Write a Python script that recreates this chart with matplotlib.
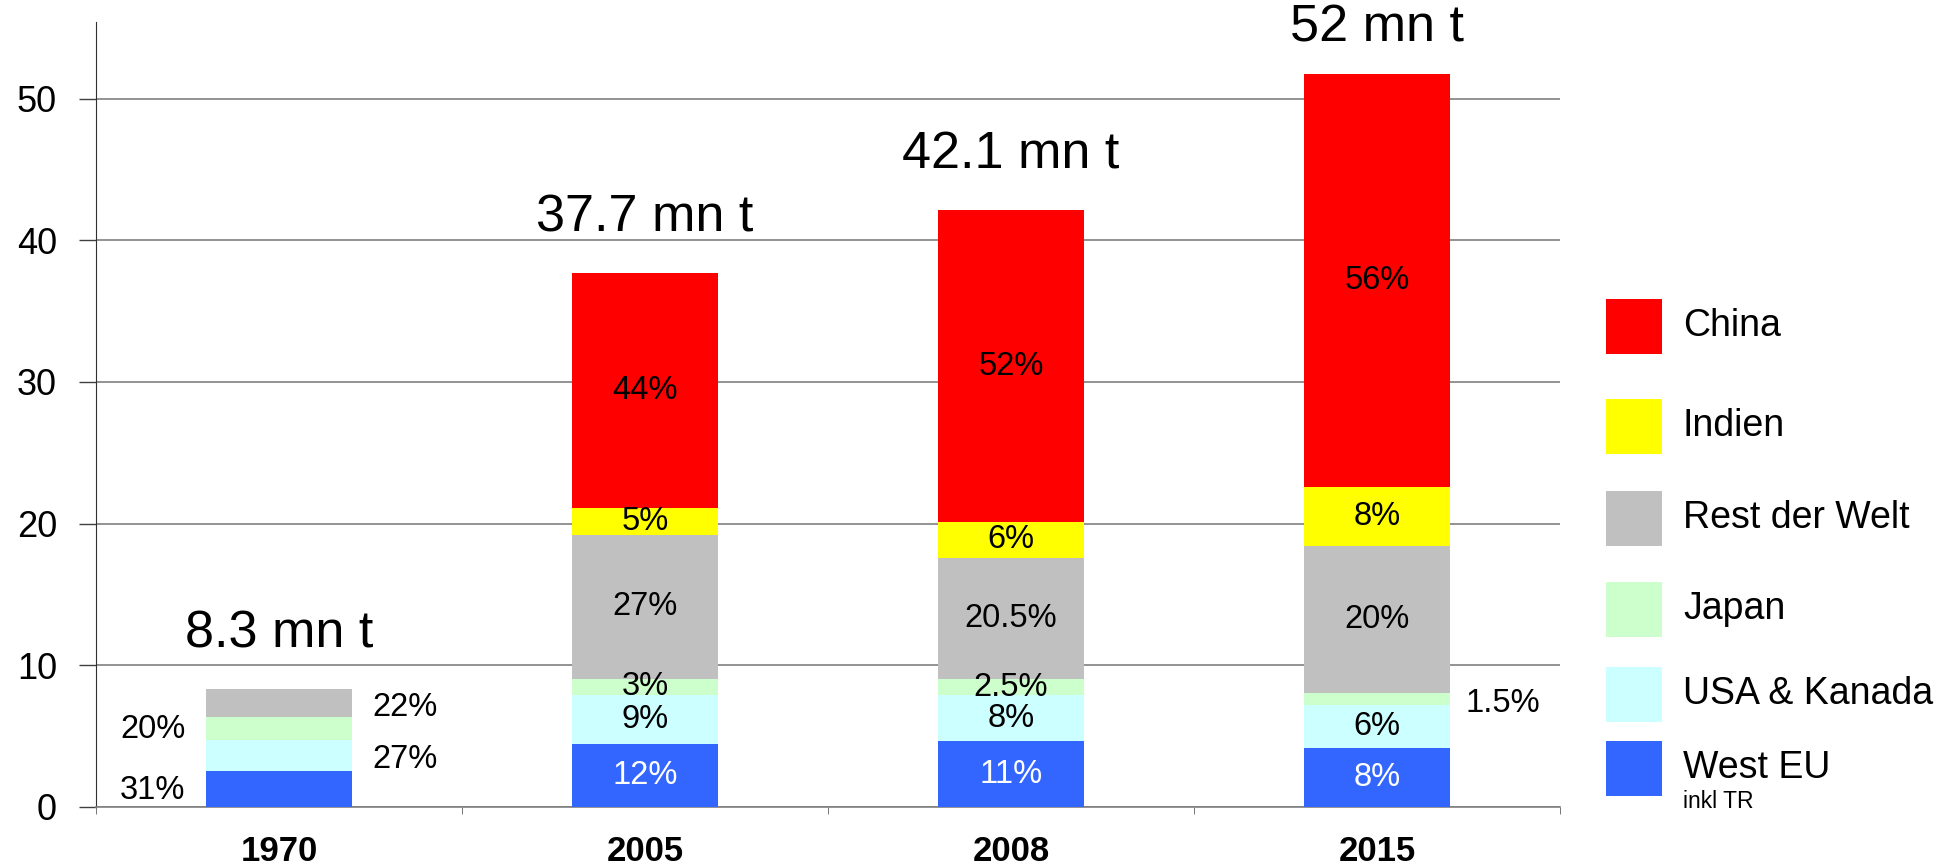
import matplotlib
matplotlib.use("Agg")
from matplotlib import pyplot as plt
from matplotlib.patches import Rectangle
import numpy as np

plt.rcParams['font.family'] = ['Liberation Sans', 'DejaVu Sans']

years = ['1970', '2005', '2008', '2015']
totals = ['8.3 mn t', '37.7 mn t', '42.1 mn t', '52 mn t']

# segments in mn t, bottom to top
west_eu = [2.55, 4.45, 4.65, 4.15]
usa_kanada = [2.2, 3.45, 3.25, 3.05]
japan = [1.6, 1.15, 1.1, 0.85]
rest = [1.95, 10.15, 8.6, 10.4]
indien = [0.0, 1.9, 2.5, 4.1]
china = [0.0, 16.6, 22.0, 29.2]

west_pct = ['31%', '12%', '11%', '8%']
usa_pct = ['27%', '9%', '8%', '6%']
japan_pct = ['20%', '3%', '2.5%', '1.5%']
rest_pct = ['22%', '27%', '20.5%', '20%']
indien_pct = ['', '5%', '6%', '8%']
china_pct = ['', '44%', '52%', '56%']

names = ['West EU', 'USA & Kanada', 'Japan', 'Rest der Welt', 'Indien', 'China']
colors = ['#3366FF', '#CCFFFF', '#CCFFCC', '#C0C0C0', '#FFFF00', '#FF0000']
series = [west_eu, usa_kanada, japan, rest, indien, china]
labels = [west_pct, usa_pct, japan_pct, rest_pct, indien_pct, china_pct]
text_cols = ['white', 'black', 'black', 'black', 'black', 'black']

# labels drawn beside the bar instead of inside: (series idx, bar idx) -> side
outside = {(0, 0): -1, (1, 0): 1, (2, 0): -1, (3, 0): 1, (2, 3): 1}

W, H = 1947, 865
fig = plt.figure(figsize=(W / 100, H / 100), dpi=100)
ax = fig.add_axes([96 / W, 1 - 807 / H, (1560 - 96) / W, (807 - 22) / H])

x = np.arange(len(years))
bottom = np.zeros(len(years))
for s, (vals, col, labs, tc) in enumerate(zip(series, colors, labels, text_cols)):
    vals = np.array(vals)
    ax.bar(x, vals, width=0.4, bottom=bottom, color=col, zorder=3)
    for i in range(len(years)):
        if not labs[i]:
            continue
        yc = bottom[i] + vals[i] / 2
        side = outside.get((s, i))
        if side:
            # side labels sit a little lower on the right
            ax.text(x[i] + side * 0.345, yc - (0.3 if side > 0 else 0.1), labs[i],
                    ha='center', va='center', fontsize=23.5, color='black', zorder=4)
        else:
            ax.text(x[i], yc, labs[i], ha='center', va='center',
                    fontsize=23.5, color=tc, zorder=4)
    bottom = bottom + vals

for i, t in enumerate(totals):
    ax.text(x[i], min(bottom[i] + 3.9, 55.0), t, ha='center', va='center',
            fontsize=37.5, clip_on=False)

ax.set_xlim(-0.5, len(years) - 0.5)
ax.set_ylim(0, 55.4)
ax.set_yticks(range(0, 51, 10))
ax.tick_params(axis='y', labelsize=26, length=12, width=1, pad=16, color='#404040')
ax.set_xticks(x)
ax.set_xticklabels(years, fontsize=25, fontweight='bold')
ax.tick_params(axis='x', length=0, pad=20)
ax.set_xticks(np.arange(-0.5, len(years), 1), minor=True)
ax.tick_params(axis='x', which='minor', length=5, color='#606060')
ax.yaxis.grid(True, color='#808080', linewidth=1.2, zorder=0)
for sp in ['top', 'right']:
    ax.spines[sp].set_visible(False)
ax.spines['left'].set_color('#303030')
ax.spines['bottom'].set_color('#808080')
ax.spines['bottom'].set_linewidth(1.2)

# legend
leg_tops = [299, 399, 491, 582, 667, 741]
for name, col, top in zip(names[::-1], colors[::-1], leg_tops):
    fig.add_artist(Rectangle((1606 / W, 1 - (top + 55) / H), 56 / W, 55 / H,
                             facecolor=col, edgecolor='none', transform=fig.transFigure))
    fig.text(1683 / W, 1 - (top + 27) / H, name, ha='left', va='center', fontsize=27)
fig.text(1683 / W, 1 - 802 / H, 'inkl TR', ha='left', va='center', fontsize=16.5)

fig.savefig('out.png', dpi=100)
